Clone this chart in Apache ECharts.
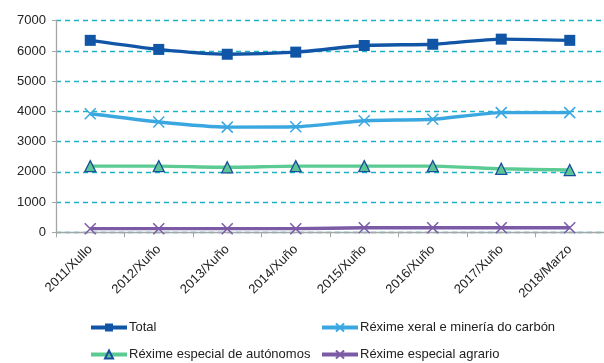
<!DOCTYPE html>
<html>
<head>
<meta charset="utf-8">
<script src="https://cdn.jsdelivr.net/npm/echarts@6/dist/echarts.min.js"></script>
<style>
html,body{margin:0;padding:0;background:#fff;}
#chart{width:604px;height:363px;}
</style>
</head>
<body>
<div id="chart"></div>
<script>
// Categories (period of each observation)
const categories = ['2011/Xullo','2012/Xuño','2013/Xuño','2014/Xuño','2015/Xuño','2016/Xuño','2017/Xuño','2018/Marzo'];

// Series values
const total     = [6350, 6050, 5890, 5960, 6180, 6220, 6390, 6350];
const xeral     = [3920, 3650, 3480, 3490, 3690, 3740, 3960, 3960];
const autonomos = [2190, 2190, 2150, 2190, 2190, 2190, 2100, 2060];
const agrario   = [120, 120, 120, 120, 150, 150, 150, 150];

// Series names
const names = ['Total', 'Réxime xeral e minería do carbón', 'Réxime especial de autónomos', 'Réxime especial agrario'];

const crossPath = 'path://M0,0L10,10M10,0L0,10';
const FONT = 'Liberation Sans';

// One legend entry per block, placed in a 2x2 layout
const legendPos = [[89, 321], [320, 321], [89, 348], [320, 348]];
const legends = names.map((n, i) => ({
  left: legendPos[i][0], top: legendPos[i][1], padding: 0,
  itemWidth: 36, itemHeight: 10,
  lineStyle: {width: 4},
  textStyle: {fontFamily: FONT, fontSize: 13, color: '#222', padding: [0, 0, 0, -3]},
  data: [n]
}));

const chart = echarts.init(document.getElementById('chart'), null, {renderer: 'canvas'});

chart.setOption({
  animation: false,
  textStyle: {fontFamily: FONT},
  grid: {left: 56, right: -6, top: 20.7, height: 211.6, containLabel: false},
  legend: legends,
  xAxis: {
    type: 'category',
    data: categories,
    boundaryGap: true,
    axisLine: {lineStyle: {color: '#a6a6a6', width: 1.3}},
    axisTick: {show: true, length: 5, lineStyle: {color: '#a6a6a6'}},
    axisLabel: {rotate: 45, margin: 15, fontSize: 13, color: '#222', fontFamily: FONT, interval: 0}
  },
  yAxis: {
    type: 'value',
    min: 0, max: 7000, interval: 1000,
    axisLine: {show: true, lineStyle: {color: '#a6a6a6', width: 1.3}},
    axisTick: {show: true, length: 4, lineStyle: {color: '#a6a6a6'}},
    axisLabel: {fontSize: 13, color: '#222', fontFamily: FONT, margin: 10, formatter: v => String(v)},
    splitLine: {show: true, lineStyle: {color: '#1ab4c6', type: [5, 4], width: 1.3}}
  },
  series: [
    {
      name: names[0], type: 'line', data: total, smooth: 0.2,
      symbol: 'rect', symbolSize: 11,
      lineStyle: {color: '#1155a6', width: 3.4},
      itemStyle: {color: '#1155a6'},
      z: 5
    },
    {
      name: names[1], type: 'line', data: xeral, smooth: 0.2,
      symbol: crossPath, symbolSize: 11,
      lineStyle: {color: '#3aa7e0', width: 3.4},
      itemStyle: {color: 'rgba(0,0,0,0)', borderColor: '#3aa7e0', borderWidth: 1.5},
      z: 4
    },
    {
      name: names[2], type: 'line', data: autonomos, smooth: 0.2,
      symbol: 'triangle', symbolSize: 11,
      lineStyle: {color: '#5ccb93', width: 3.4},
      itemStyle: {color: '#5cc495', borderColor: '#1a4f9c', borderWidth: 1.3},
      z: 3
    },
    {
      name: names[3], type: 'line', data: agrario, smooth: 0.2,
      symbol: crossPath, symbolSize: 11,
      lineStyle: {color: '#7b5aa6', width: 3.4},
      itemStyle: {color: 'rgba(0,0,0,0)', borderColor: '#7b5aa6', borderWidth: 1.5},
      z: 2
    }
  ]
});
</script>
</body>
</html>
